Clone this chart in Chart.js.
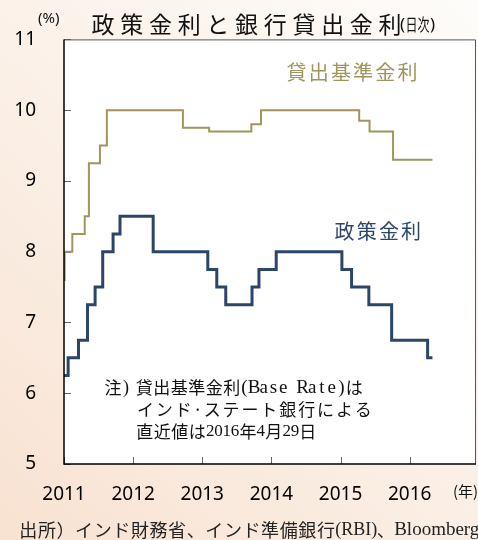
<!DOCTYPE html>
<html lang="ja">
<head>
<meta charset="utf-8">
<title>政策金利と銀行貸出金利</title>
<script src="https://cdn.jsdelivr.net/npm/chart.js@4.4.1/dist/chart.umd.min.js"></script>
<style>
	html, body { margin: 0; padding: 0; background: #fff; }
	canvas { display: block; }
</style>
</head>
<body>
<canvas id="rate-chart" width="478" height="540"></canvas>
<script>
( function () {
	'use strict';

	// ── Data (step changes: date in fractional years, new rate in %) ──────────
	var baseDates   = [ 2011.00, 2011.01, 2011.12, 2011.30, 2011.36, 2011.52, 2011.62, 2012.72, 2013.10, 2013.71, 2013.85, 2015.27, 2015.42, 2015.76, 2016.33 ];
	var baseRates   = [ 7.60,    8.00,    8.25,    8.50,    9.25,    9.50,    10.00,   9.75,    9.70,    9.80,    10.00,   9.85,    9.70,    9.30,    9.30 ];

	var policyDates = [ 2011.00, 2011.06, 2011.21, 2011.34, 2011.45, 2011.56, 2011.71, 2011.81, 2012.29, 2013.08, 2013.21, 2013.34, 2013.72, 2013.82, 2014.07, 2015.02, 2015.16, 2015.41, 2015.74, 2016.26, 2016.33 ];
	var policyRates = [ 6.25,    6.50,    6.75,    7.25,    7.50,    8.00,    8.25,    8.50,    8.00,    7.75,    7.50,    7.25,    7.50,    7.75,    8.00,    7.75,    7.50,    7.25,    6.75,    6.50,    6.50 ];

	var xTicks = [ 2011, 2012, 2013, 2014, 2015, 2016 ];
	var yTicks = [ 5, 6, 7, 8, 9, 10, 11 ];

	// ── Styles ────────────────────────────────────────────────────────────────
	var GOLD  = '#a0955c';
	var NAVY  = '#2b4669';
	var SANS  = "'Noto Sans', sans-serif";
	var CJK   = "'Noto Sans CJK JP', sans-serif";
	var SERIF = "'Liberation Serif', serif";

	function toPoints( dates, rates ) {
		return dates.map( function ( d, i ) { return { x: d, y: rates[ i ] }; } );
	}

	// Draw each character centred in a cell of fixed width.
	function cells( ctx, text, x, y, pitch, font ) {
		ctx.font = font;
		ctx.textAlign = 'center';
		for ( var i = 0; i < text.length; i++ ) {
			ctx.fillText( text[ i ], x + pitch * ( i + 0.5 ), y );
		}
		return x + pitch * text.length;
	}

	function plain( ctx, text, x, y, font ) {
		ctx.font = font;
		ctx.textAlign = 'left';
		ctx.fillText( text, x, y );
		return x + ctx.measureText( text ).width;
	}

	// ── Decor plugin: background, frame, inner ticks, texts ───────────────────
	var decor = {
		id : 'decor',
		beforeDraw : function ( chart ) {
			var ctx = chart.ctx;
			var a   = chart.chartArea;
			var g   = ctx.createLinearGradient( 478, 0, 0, 540 );
			g.addColorStop( 0, '#fefcfa' );
			g.addColorStop( 0.5, '#fbf0e7' );
			g.addColorStop( 1, '#f8e2d2' );
			ctx.save();
			ctx.fillStyle = g;
			ctx.fillRect( 0, 0, chart.width, chart.height );
			ctx.fillStyle = '#fff';
			ctx.fillRect( a.left, a.top, a.right - a.left, a.bottom - a.top );
			ctx.restore();
		},
		beforeDatasetsDraw : function ( chart ) {
			var ctx = chart.ctx;
			var a   = chart.chartArea;
			var xs  = chart.scales.x;
			var ys  = chart.scales.y;
			ctx.save();
			ctx.strokeStyle = '#666';
			ctx.lineWidth = 1;
			ctx.beginPath();
			xTicks.forEach( function ( v ) {
				var px = Math.round( xs.getPixelForValue( v ) ) + 0.5;
				ctx.moveTo( px, a.bottom );
				ctx.lineTo( px, a.bottom - 7 );
			} );
			yTicks.forEach( function ( v ) {
				var py = Math.round( ys.getPixelForValue( v ) ) + 0.5;
				ctx.moveTo( a.left, py );
				ctx.lineTo( a.left + 7, py );
			} );
			ctx.stroke();
			ctx.restore();
		},
		afterDraw : function ( chart ) {
			var ctx = chart.ctx;
			var a   = chart.chartArea;
			ctx.save();

			// frame
			ctx.strokeStyle = '#555';
			ctx.lineWidth = 1;
			ctx.beginPath();
			ctx.moveTo( a.left, a.top + 0.5 );
			ctx.lineTo( a.right - 0.5, a.top + 0.5 );
			ctx.lineTo( a.right - 0.5, a.bottom );
			ctx.stroke();
			ctx.strokeStyle = '#000';
			ctx.lineWidth = 1.5;
			ctx.beginPath();
			ctx.moveTo( a.left, a.top );
			ctx.lineTo( a.left, a.bottom );
			ctx.lineTo( a.right, a.bottom );
			ctx.stroke();

			ctx.textBaseline = 'middle';

			// title
			ctx.fillStyle = '#111';
			cells( ctx, '政策金利と銀行貸出金利', 88.7, 24, 28.7, '23px ' + CJK );
			var x = plain( ctx, '(', 400, 25, '17px ' + SANS );
			ctx.font = '17px ' + CJK;
			ctx.fillText( '日次', x + 0.5, 25, 24 );
			plain( ctx, ')', x + 25, 25, '17px ' + SANS );

			// unit labels
			ctx.font = '15px ' + SANS;
			ctx.fillText( '(%)', 38, 19, 25 );
			ctx.font = '15px ' + CJK;
			ctx.fillText( '(年)', 453, 491 );

			// series labels
			ctx.fillStyle = GOLD;
			cells( ctx, '貸出基準金利', 285.4, 72, 22.2, '20px ' + CJK );
			ctx.fillStyle = NAVY;
			cells( ctx, '政策金利', 333.4, 231.5, 22.2, '20px ' + CJK );

			// note
			ctx.fillStyle = '#111';
			x = cells( ctx, '注', 104, 388, 18, '17px ' + CJK );
			x = cells( ctx, ')', x, 388, 8, '18px ' + SERIF );
			x = cells( ctx, '貸出基準金利', 135.5, 388, 17.5, '17px ' + CJK );
			x = cells( ctx, '(Base Rate)', x - 1, 388, 9.7, '19px ' + SERIF );
			cells( ctx, 'は', x - 1, 388, 18, '17px ' + CJK );

			x = cells( ctx, 'インド', 136, 410, 18.9, '17px ' + CJK );
			x = cells( ctx, '·', x, 410, 10, '17px ' + CJK );
			cells( ctx, 'ステート銀行による', x, 410, 18.9, '17px ' + CJK );

			x = cells( ctx, '直近値は', 136, 432, 17.5, '17px ' + CJK );
			x = cells( ctx, '2016', x, 432, 8.3, '17px ' + SERIF );
			x = cells( ctx, '年', x, 432, 17.5, '17px ' + CJK );
			x = cells( ctx, '4', x, 432, 8.3, '17px ' + SERIF );
			x = cells( ctx, '月', x, 432, 17.5, '17px ' + CJK );
			x = cells( ctx, '29', x, 432, 8.3, '17px ' + SERIF );
			cells( ctx, '日', x, 432, 17.5, '17px ' + CJK );

			// source
			ctx.fillStyle = '#222';
			x = cells( ctx, '出所）インド財務省、インド準備銀行', 19, 530, 18.6, '18px ' + CJK );
			x = plain( ctx, '(RBI)', x, 530, '18px ' + SERIF );
			x = cells( ctx, '、', x, 530, 17, '18px ' + CJK );
			plain( ctx, 'Bloomberg', x, 530, '19px ' + SERIF );

			ctx.restore();
		},
	};

	// ── Chart ─────────────────────────────────────────────────────────────────
	var ctx = document.getElementById( 'rate-chart' ).getContext( '2d' );

	new Chart( ctx, {
		type : 'line',
		data : {
			datasets : [
				{
					label       : '貸出基準金利',
					data        : toPoints( baseDates, baseRates ),
					stepped     : true,
					borderColor : GOLD,
					borderWidth : 2,
					pointRadius : 0,
					fill        : false,
				},
				{
					label       : '政策金利',
					data        : toPoints( policyDates, policyRates ),
					stepped     : true,
					borderColor : NAVY,
					borderWidth : 3,
					pointRadius : 0,
					fill        : false,
				},
			],
		},
		options : {
			responsive       : false,
			animation        : false,
			devicePixelRatio : 1,
			layout  : { padding: { top: 37, right: 2, left: 0, bottom: 0 } },
			plugins : {
				legend  : { display: false },
				tooltip : { enabled: false },
			},
			scales : {
				x : {
					type   : 'linear',
					min    : 2011,
					max    : 2016.96,
					grid   : { display: false, drawTicks: false },
					border : { display: false },
					ticks  : {
						color    : '#000',
						padding  : 19,
						font     : { family: SANS, size: 19 },
						maxRotation : 0,
						autoSkip : false,
						callback : function ( v ) { return String( v ); },
					},
					afterBuildTicks : function ( s ) {
						s.ticks = xTicks.map( function ( v ) { return { value: v }; } );
					},
					afterFit : function ( s ) { s.height = 76; },
				},
				y : {
					min    : 5,
					max    : 11,
					grid   : { display: false, drawTicks: false },
					border : { display: false },
					ticks  : {
						color    : '#000',
						padding  : 28,
						font     : { family: SANS, size: 19 },
						autoSkip : false,
					},
					afterBuildTicks : function ( s ) {
						s.ticks = yTicks.map( function ( v ) { return { value: v }; } );
					},
					afterFit : function ( s ) { s.width = 64; },
				},
			},
		},
		plugins : [ decor ],
	} );
}() );
</script>
</body>
</html>
